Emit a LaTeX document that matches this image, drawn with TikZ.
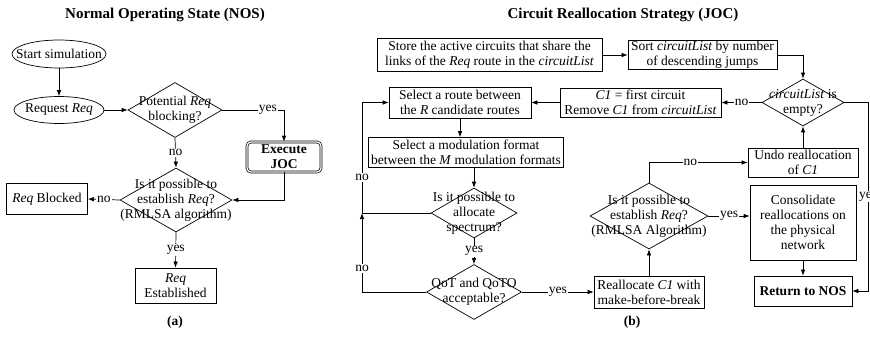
\documentclass[tikz,border=0pt]{standalone}
\usepackage{fontspec}
\setmainfont{Liberation Serif}
\usetikzlibrary{shapes,arrows.meta,positioning}

\tikzset{
  box/.style={draw, align=center, inner sep=1pt},
  oval/.style={ellipse, draw, inner sep=1pt},
  dia/.style={diamond, draw, inner sep=0pt},
  dtxt/.style={align=center, inner sep=0pt},
  lbl/.style={fill=white, inner sep=1pt},
}

\begin{document}
\begin{tikzpicture}[x=1pt, y=-1pt, line width=0.7pt, >={Latex[length=6pt,width=4.5pt]},
  every node/.style={font=\fontsize{13.5}{15}\selectfont}]
\useasboundingbox (0,0) rectangle (870,340);

% (a) normal operating state
\node (t1) at (165,15) {\fontsize{15}{17}\selectfont\textbf{Normal Operating State (NOS)}};
\node[oval, minimum width=94pt, minimum height=28pt] (1) at (59,54) {\makebox[0pt]{Start simulation}};
\node[oval, minimum width=90pt, minimum height=27pt] (2) at (59,110) {\makebox[0pt]{Request \textit{Req}}};
\node[dia, minimum width=94pt, minimum height=55pt, label={[dtxt]center:Potential \textit{Req}\\blocking?}] (3) at (175,110) {};
\node[box, double, double distance=1.3pt, rounded corners=4pt, minimum width=74pt, minimum height=30pt] (4) at (284,157) {\textbf{Execute}\\\textbf{JOC}};
\node[dia, minimum width=112pt, minimum height=64pt, label={[dtxt]center:Is it possible to\\establish \textit{Req}?\\(RMLSA algorithm)}] (5) at (176,200) {};
\node[box, minimum width=81pt, minimum height=31pt] (6) at (47,199) {\textit{Req} Blocked};
\node[box, minimum width=81pt, minimum height=35pt] (7) at (175.5,285.5) {\textit{Req}\\Established};
\node (a) at (175,322) {\textbf{(a)}};

\draw[->] (1) -- (2);
\draw[->] (2) -- (3);
\draw[->] (3.east) -| node[lbl, pos=0.37]{yes} (4.north);
\draw[->] (3.south) -- node[lbl]{no} (5.north);
\draw[->] (4.south) |- (5.east);
\draw[->] (5.west) -- node[lbl]{no} (6.east);
\draw[->] (5.south) -- node[lbl]{yes} (7.north);

% (b) circuit reallocation strategy
\node (t2) at (623,15) {\fontsize{15}{17}\selectfont\textbf{Circuit Reallocation Strategy (JOC)}};
\node[box, minimum width=225pt, minimum height=33pt] (11) at (489.5,55) {Store the active circuits that share the\\links of the \textit{Req} route in the \textit{circuitList}};
\node[box, minimum width=149pt, minimum height=29pt] (12) at (702.5,55) {Sort \textit{circuitList} by number\\of descending jumps};
\node[dia, minimum width=82pt, minimum height=47pt, label={[dtxt]center:\textit{circuitList} is\\empty?}] (13) at (803,102.5) {};
\node[box, minimum width=161pt, minimum height=29pt] (14) at (640.5,102.5) {\textit{C1} = first circuit\\Remove \textit{C1} from \textit{circuitList}};
\node[box, minimum width=142pt, minimum height=31pt] (15) at (460,102.5) {Select a route between\\the \textit{R} candidate routes};
\node[box, minimum width=195pt, minimum height=30pt] (16) at (466,152.5) {Select a modulation format\\between the \textit{M} modulation formats};
\node[dia, minimum width=86pt, minimum height=50pt, label={[dtxt]center:Is it possible to\\allocate\\spectrum?}] (17) at (474,213) {};
\node[dia, minimum width=95pt, minimum height=55pt, label={[dtxt]center:QoT and QoTO\\acceptable?}] (18) at (474,292) {};
\node[box, minimum width=110pt, minimum height=32pt] (19) at (649,292) {Reallocate \textit{C1} with\\make-before-break};
\node[dia, minimum width=118pt, minimum height=66pt, label={[dtxt]center:Is it possible to\\establish \textit{Req}?\\(RMLSA Algorithm)}] (20) at (649,216) {};
\node[box, minimum width=110pt, minimum height=29pt] (21) at (803,162.5) {Undo reallocation\\of \textit{C1}};
\node[box, minimum width=106pt, minimum height=75pt] (22) at (803,222.5) {Consolidate\\reallocations on\\the physical\\network};
\node[box, minimum width=98pt, minimum height=30pt] (23) at (803,291) {\textbf{Return to NOS}};
\node (b) at (632,322) {\textbf{(b)}};
\coordinate (c1) at (362,213);
\coordinate (c2) at (868,102.5);

\draw[->] (11) -- (12);
\draw[->] (12.east) -| (13.north);
\draw[->] (13.west) -- node[lbl]{no} (14.east);
\draw[->] (14.west) -- (15.east);
\draw[->] (15.south) -- (15.south |- 16.north);
\draw[->] (16.south -| 17.north) -- (17.north);
\draw[->] (17.south) -- node[lbl]{yes} (18.north);
\draw[->] (17.west) -- (c1) |- node[lbl, pos=0.16]{no} (15.west);
\draw[->] (18.west) -| node[lbl, pos=0.65]{no} (c1);
\draw[->] (18.east) -- node[lbl]{yes} (19.west);
\draw[->] (19.north) -- (20.south);
\draw[->] (20.north) |- node[lbl, pos=0.71]{no} (21.west);
\draw[->] (21.north) -- (13.south);
\draw[->] (20.east) -- node[lbl]{yes} (20.east -| 22.west);
\draw[->] (22.south) -- (23.north);
\draw[->] (13.east) -- (c2) |- node[lbl, pos=0.25]{yes} (23.east);
\end{tikzpicture}
\end{document}
